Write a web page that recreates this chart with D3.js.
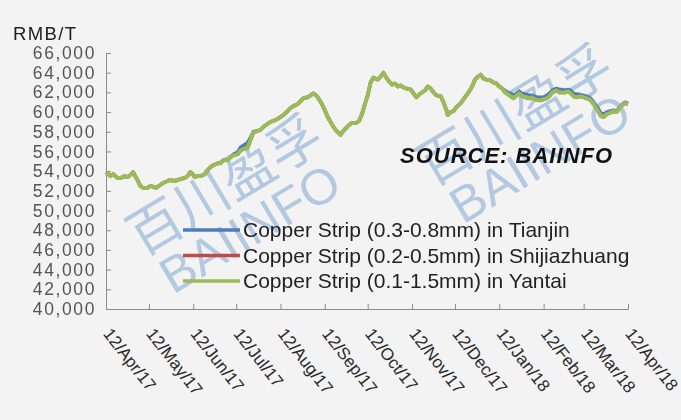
<!DOCTYPE html>
<html>
<head>
<meta charset="utf-8">
<script src="https://cdn.jsdelivr.net/npm/d3@7"></script>
<style>
html,body{margin:0;padding:0;background:#f3f3f3;}
svg{display:block;}
</style>
</head>
<body>
<div id="chart"></div>
<script>
// ---- data ----
const startDate = "2017-04-12";
const endDate = "2018-04-12";
const yTickValues = [40000,42000,44000,46000,48000,50000,52000,54000,56000,58000,60000,62000,64000,66000];
const xTickLabels = ["12/Apr/17","12/May/17","12/Jun/17","12/Jul/17","12/Aug/17","12/Sep/17","12/Oct/17","12/Nov/17","12/Dec/17","12/Jan/18","12/Feb/18","12/Mar/18","12/Apr/18"];
const seriesNames = ["Copper Strip (0.3-0.8mm) in Tianjin","Copper Strip (0.2-0.5mm) in Shijiazhuang","Copper Strip (0.1-1.5mm) in Yantai"];
// days after 12/Apr/17
const days = [0,3,5,8,10,13,15,17,19,20,
22,24,26,29,31,33,35,37,40,43,
45,48,50,52,55,57,59,60,62,64,
66,69,71,73,75,78,80,82,85,87,
89,92,94,96,99,101,103,106,108,110,
113,115,117,120,122,124,127,129,131,134,
136,138,141,143,145,147,149,151,153,155,
157,159,161,164,166,168,170,172,175,177,
179,181,183,185,187,190,192,194,196,198,
200,202,204,206,208,210,213,215,217,219,
221,223,225,227,229,231,234,236,238,239,
241,243,245,248,250,252,254,256,258,260,
262,264,266,269,271,273,275,277,279,281,
283,285,287,289,291,294,296,298,300,302,
304,306,308,310,312,315,317,319,321,323,
325,327,329,331,334,336,338,340,342,344,
346,348,350,352,355,357,359,361,363,365];
const tianjin = [53900,53500,53700,53300,53300,53500,53400,53600,53900,53600,
53100,52500,52300,52300,52500,52400,52300,52500,52800,53000,
53100,53000,53100,53200,53300,53500,53900,53800,53400,53500,
53500,53700,54100,54400,54600,54800,54800,55100,55100,55400,
55700,55900,56400,56600,56900,57400,58000,58100,58200,58500,
58800,59000,59100,59300,59500,59700,60100,60400,60600,60800,
61100,61400,61500,61700,61900,61700,61300,60800,60200,59500,
59000,58500,58100,57700,58100,58400,58700,58900,58900,59100,
59800,60800,61700,63000,63500,63300,63600,64000,63500,63100,
62800,62900,62600,62700,62500,62400,62300,61900,61500,61800,
62000,62200,62600,62400,62000,61700,61600,61000,60200,59700,
60000,60100,60500,60900,61300,61700,62100,62600,63300,63600,
63800,63400,63300,63200,63000,62900,62600,62400,62200,62000,
61900,61700,61900,62100,61900,61800,61700,61700,61600,61500,
61500,61500,61700,61900,62200,62400,62300,62300,62200,62300,
62200,61900,61800,61800,61700,61600,61500,61200,60800,60400,
59900,59800,60000,60100,60200,60100,60500,60800,61000,60900];
const shijiazhuang = [53900,53500,53700,53300,53300,53500,53400,53600,53900,53600,
53100,52500,52300,52300,52500,52400,52300,52500,52800,53000,
53100,53000,53100,53200,53300,53500,53900,53800,53400,53500,
53500,53700,54100,54400,54600,54800,54800,55100,55100,55400,
55600,55700,56100,56250,56350,57150,57900,58100,58200,58500,
58800,59000,59100,59300,59500,59700,60100,60400,60600,60800,
61100,61400,61500,61700,61900,61700,61300,60800,60200,59500,
59000,58500,58100,57700,58100,58400,58700,58900,58900,59100,
59800,60800,61700,63000,63500,63300,63600,64000,63500,63100,
62800,62900,62600,62700,62500,62400,62300,61900,61500,61800,
62000,62200,62600,62400,62000,61700,61600,61000,60200,59700,
60000,60100,60500,60900,61300,61700,62100,62600,63300,63600,
63800,63400,63300,63200,63000,62900,62600,62400,62000,61800,
61600,61400,61700,61900,61600,61500,61400,61500,61300,61200,
61200,61300,61400,61600,62000,62200,62000,62000,62000,62100,
61900,61600,61500,61600,61500,61400,61300,61000,60600,60100,
59600,59500,59800,59900,60100,60000,60400,60700,60900,60800];
const yantai = [53900,53500,53700,53300,53300,53500,53400,53600,53900,53600,
53100,52500,52300,52300,52500,52400,52300,52500,52800,53000,
53100,53000,53100,53200,53300,53500,53900,53800,53400,53500,
53500,53700,54100,54400,54600,54800,54800,55100,55100,55400,
55600,55700,56100,56250,56350,57150,57900,58100,58200,58500,
58800,59000,59100,59300,59500,59700,60100,60400,60600,60800,
61100,61400,61500,61700,61900,61700,61300,60800,60200,59500,
59000,58500,58100,57700,58100,58400,58700,58900,58900,59100,
59800,60800,61700,63000,63500,63300,63600,64000,63500,63100,
62800,62900,62600,62700,62500,62400,62300,61900,61500,61800,
62000,62200,62600,62400,62000,61700,61600,61000,60200,59700,
60000,60100,60500,60900,61300,61700,62100,62600,63300,63600,
63800,63400,63300,63200,63000,62900,62600,62400,62000,61800,
61600,61400,61700,61900,61600,61500,61400,61500,61300,61200,
61200,61300,61400,61600,62000,62200,62000,62000,62000,62100,
61900,61600,61500,61600,61500,61400,61300,61000,60600,60100,
59600,59500,59800,59900,60100,60000,60400,60700,60900,60800];
const colors = ["#4a7ebb","#be4b48","#9bbb59"];

// ---- chart ----
const W = 681, H = 420;
const FONT = "'Liberation Sans', Arial, sans-serif";
const svg = d3.select("#chart").append("svg").attr("width", W).attr("height", H)
  .style("font-family", FONT);
svg.append("rect").attr("width", W).attr("height", H).attr("fill", "#f3f3f3");

const mLeft = 106, mRight = 628, mTop = 53, mBottom = 309;
const parse = d3.timeParse("%Y-%m-%d");
const t0 = parse(startDate), t1 = parse(endDate);
const x = d3.scaleTime().domain([t0, t1]).range([mLeft, mRight]);
const y = d3.scaleLinear().domain([40000, 66000]).range([mBottom, mTop]);

// watermark
const wm = svg.append("g").attr("fill", "#97b5d8").attr("opacity", 0.7);
[[0,0],[290,-70]].forEach(([dx,dy]) => {
  wm.append("text").attr("transform", `translate(${227+dx},${189+dy}) rotate(-31)`)
    .attr("text-anchor","middle").attr("dominant-baseline","middle")
    .attr("font-family","'Noto Sans CJK SC', sans-serif").attr("font-size", 54)
    .text("百川盈孚");
  wm.append("text").attr("transform", `translate(${252+dx},${232+dy}) rotate(-31)`)
    .attr("text-anchor","middle").attr("dominant-baseline","middle")
    .attr("font-size", 50)
    .text("BAIINFO");
});

// axes
const yAxis = d3.axisLeft(y).tickValues(yTickValues).tickSize(-5).tickPadding(10).tickFormat(d3.format(","));
const gy = svg.append("g").attr("transform", `translate(${mLeft},0)`).call(yAxis);
gy.select(".domain").attr("stroke", "#8a8a8a");
gy.selectAll(".tick line").attr("stroke", "#8a8a8a");
gy.selectAll(".tick text").attr("font-size", 17.5).attr("letter-spacing", 1.6)
  .attr("fill", "#555").attr("font-family", FONT);

const monthTicks = xTickLabels.map((s, i) => d3.timeMonth.offset(t0, i));
const xAxis = d3.axisBottom(x).tickValues(monthTicks).tickSize(-5).tickFormat((d, i) => xTickLabels[i]);
const gx = svg.append("g").attr("transform", `translate(0,${mBottom})`).call(xAxis);
gx.select(".domain").attr("stroke", "#8a8a8a");
gx.selectAll(".tick line").attr("stroke", "#8a8a8a");
gx.selectAll(".tick text")
  .attr("font-size", 17).attr("fill", "#2a2a2a").attr("font-family", FONT)
  .attr("text-anchor", "start").attr("dy", null).attr("y", null)
  .attr("transform", "translate(-4,25) rotate(52)");

// lines
const dates = days.map(d => d3.timeDay.offset(t0, d));
const seriesValues = [tianjin, shijiazhuang, yantai];
const line = d3.line().x(d => x(d[0])).y(d => y(d[1]));
seriesValues.forEach((vals, i) => {
  svg.append("path").datum(dates.map((dt, j) => [dt, vals[j]]))
    .attr("fill", "none").attr("stroke", colors[i])
    .attr("stroke-width", i === 2 ? 4 : 3.5)
    .attr("stroke-linejoin", "round")
    .attr("d", line);
});

// legend
const leg = svg.append("g");
seriesNames.forEach((n, i) => {
  const ly = 230 + i * 25.5;
  leg.append("line").attr("x1", 183).attr("x2", 240).attr("y1", ly).attr("y2", ly)
    .attr("stroke", colors[i]).attr("stroke-width", 3.5);
  leg.append("text").attr("x", 243).attr("y", ly + 7).attr("font-size", 21)
    .attr("fill", "#222").text(n);
});

// labels
svg.append("text").attr("x", 13).attr("y", 40).attr("font-size", 18.5).attr("letter-spacing", 1.4)
  .attr("fill", "#222").text("RMB/T");
svg.append("text").attr("x", 400).attr("y", 163).attr("font-size", 22)
  .attr("font-weight", "bold").attr("font-style", "italic").attr("letter-spacing", 1)
  .attr("fill", "#111").text("SOURCE: BAIINFO");
</script>
</body>
</html>
